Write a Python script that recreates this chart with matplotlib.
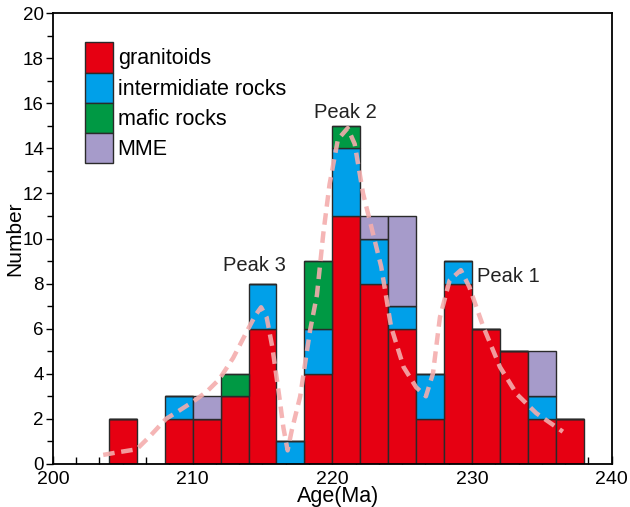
import matplotlib
matplotlib.use("Agg")
import matplotlib.pyplot as plt
from matplotlib.ticker import MultipleLocator
from matplotlib.patches import Patch

plt.rcParams['font.family'] = ['Liberation Sans', 'DejaVu Sans']

# ========== DATA ========== #
bin_left = [204, 208, 210, 212, 214, 216, 218, 220, 222, 224, 226, 228, 230, 232, 234, 236]
granitoids = [2, 2, 2, 3, 6, 0, 4, 11, 8, 6, 2, 8, 6, 5, 2, 2]
intermediate = [0, 1, 0, 0, 2, 1, 2, 3, 2, 1, 2, 1, 0, 0, 1, 0]
mafic = [0, 0, 0, 1, 0, 0, 3, 1, 0, 0, 0, 0, 0, 0, 0, 0]
mme = [0, 0, 1, 0, 0, 0, 0, 0, 1, 4, 0, 0, 0, 0, 2, 0]

# dashed density curve
curve_x = [203.6, 204.5, 206.0, 206.9, 208.1, 209.0, 210.0, 211.0, 211.9, 212.9,
           213.9, 214.5, 214.9, 215.3, 215.7, 216.2, 216.5, 216.8, 217.1, 217.7,
           218.4, 218.9, 219.35, 219.8, 220.4, 221.1, 221.6, 222.2, 222.8, 223.5,
           224.2, 225.1, 226.0, 226.7, 227.2, 227.7, 228.4, 229.2, 229.8, 230.8,
           232.0, 233.2, 234.6, 236.5]
curve_y = [0.4, 0.5, 0.65, 1.2, 2.0, 2.35, 2.75, 3.2, 3.75, 4.7,
           5.9, 6.6, 6.95, 6.5, 5.2, 3.0, 1.6, 0.6, 1.5, 3.0,
           5.9, 7.5, 10.2, 12.4, 14.4, 14.9, 14.2, 12.0, 10.5, 8.75,
           6.1, 4.3, 3.4, 3.0, 4.0, 6.5, 8.15, 8.6, 7.86, 6.1,
           4.3, 3.1, 2.25, 1.43]

peak_labels = ["Peak 1", "Peak 2", "Peak 3"]
peak_pos = [(232.6, 8.3), (220.9, 15.6), (214.45, 8.8)]

BIN_W = 2
colors = {"granitoids": "#e60012", "intermediate": "#00a0e9",
          "mafic": "#009944", "mme": "#a69bca"}
EDGE = "#2a2a2a"

# ========== PLOT ========== #
fig = plt.figure(figsize=(6.3, 5.07), dpi=100)
ax = fig.add_axes([0.084, 0.085, 0.887, 0.889])

bottom = [0] * len(bin_left)
series = [(granitoids, colors["granitoids"]),
          (intermediate, colors["intermediate"]),
          (mafic, colors["mafic"]),
          (mme, colors["mme"])]
for vals, c in series:
    ax.bar(bin_left, vals, width=BIN_W, bottom=bottom, align="edge",
           color=c, edgecolor=EDGE, linewidth=1.0, zorder=2)
    bottom = [b + v for b, v in zip(bottom, vals)]

ax.plot(curve_x, curve_y, color="#f4adad", lw=3.2, dashes=(2.6, 1.5),
        alpha=0.9, zorder=3)

for lab, (px, py) in zip(peak_labels, peak_pos):
    ax.text(px, py, lab, fontsize=14.5, ha="center", va="center", color="#222222")

ax.set_xlim(200, 240)
ax.set_ylim(0, 20)
ax.xaxis.set_major_locator(MultipleLocator(10))
ax.xaxis.set_minor_locator(MultipleLocator(10 / 6))
ax.yaxis.set_major_locator(MultipleLocator(2))
ax.yaxis.set_minor_locator(MultipleLocator(1))
ax.tick_params(axis="x", which="both", direction="in", labelsize=14, pad=5)
ax.tick_params(axis="x", which="major", length=6, width=1)
ax.tick_params(axis="x", which="minor", length=5, width=1)
ax.tick_params(axis="y", which="both", direction="out", labelsize=13.5, pad=1.5)
ax.tick_params(axis="y", which="major", length=5, width=1)
ax.tick_params(axis="y", which="minor", length=4, width=1)
ax.set_axisbelow(True)
for s in ax.spines.values():
    s.set_linewidth(1.3)

ax.set_xlabel("Age(Ma)", fontsize=15.5, va="center")
ax.xaxis.set_label_coords(0.51, -0.073)
ax.set_ylabel("Number", fontsize=15, va="center")
ax.yaxis.set_label_coords(-0.069, 0.5)

handles = [Patch(facecolor=colors["granitoids"], edgecolor=EDGE, label="granitoids"),
           Patch(facecolor=colors["intermediate"], edgecolor=EDGE, label="intermidiate rocks"),
           Patch(facecolor=colors["mafic"], edgecolor=EDGE, label="mafic rocks"),
           Patch(facecolor=colors["mme"], edgecolor=EDGE, label="MME")]
ax.legend(handles=handles, loc="upper left", bbox_to_anchor=(0.057, 0.935),
          frameon=False, fontsize=15.5, handlelength=1.3, handleheight=1.77,
          labelspacing=0.0, handletextpad=0.23, borderpad=0, borderaxespad=0)

fig.savefig("out.png", dpi=100)
